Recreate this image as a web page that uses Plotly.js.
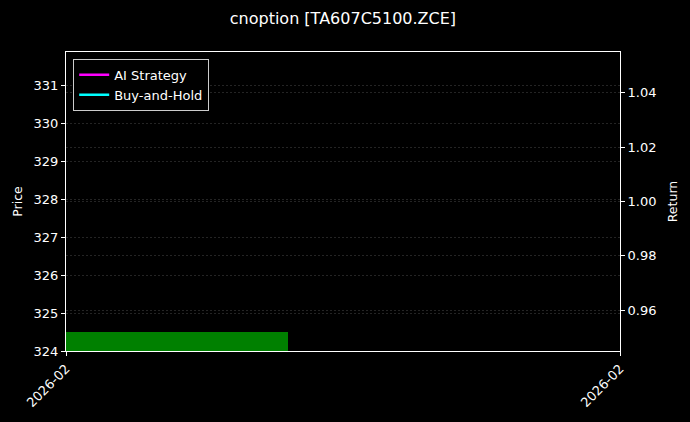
<!DOCTYPE html>
<html>
<head>
<meta charset="utf-8">
<script src="https://cdn.plot.ly/plotly-3.0.1.min.js"></script>
<style>body{margin:0;background:#000}#plot{width:690px;height:422px}</style>
</head>
<body>
<div id="plot"></div>
<script>
var dates = ['2026-02-10'];
var price = [324.5];
var aiReturn = [1.0];
var bhReturn = [1.0];
var xRange = ['2026-02-10', '2026-02-11'];
var xTickLabels = ['2026-02', '2026-02'];
var priceRange = [324, 331.87];
var returnRange = [0.945, 1.055];

var font = 'DejaVu Sans, sans-serif';
var grid = {gridcolor: '#3c3c3c', gridwidth: 0.6, griddash: '2px,2px'};

var data = [
    {x: dates, y: price, type: 'bar', width: 0.8 * 86400000, marker: {color: '#008000'},
     showlegend: false, hoverinfo: 'skip'},
    {x: dates, y: aiReturn, mode: 'lines', name: 'AI Strategy', yaxis: 'y2',
     line: {color: '#ff00ff', width: 2.5}},
    {x: dates, y: bhReturn, mode: 'lines', name: 'Buy-and-Hold', yaxis: 'y2',
     line: {color: '#00ffff', width: 2.5}}
];

var layout = {
    width: 690, height: 422,
    paper_bgcolor: '#000', plot_bgcolor: '#000',
    font: {family: font, size: 13, color: '#fff'},
    margin: {l: 66, r: 70, t: 52, b: 71},
    title: {text: 'cnoption [TA607C5100.ZCE]', font: {size: 16, color: '#fff'}, x: 0.497, y: 0.957, yanchor: 'middle'},
    xaxis: {type: 'date', range: xRange, tickvals: xRange, ticktext: xTickLabels, tickangle: -45,
            showgrid: false, showline: true, mirror: true, linecolor: '#fff', linewidth: 1,
            ticks: 'outside', ticklen: 4, tickcolor: '#fff', zeroline: false},
    yaxis: Object.assign({range: priceRange, dtick: 1, title: {text: 'Price', standoff: 8, font: {size: 12.5}},
            showline: true, linecolor: '#fff', linewidth: 1, ticks: 'outside', ticklen: 4,
            tickcolor: '#fff', zeroline: false}, grid),
    yaxis2: Object.assign({range: returnRange, dtick: 0.02, tickformat: '.2f', overlaying: 'y',
            side: 'right', title: {text: 'Return', standoff: 12, font: {size: 12.5}}, showline: true, linecolor: '#fff',
            linewidth: 1, ticks: 'outside', ticklen: 4, tickcolor: '#fff', zeroline: false}, grid),
    legend: {x: 0.013, y: 0.977, xanchor: 'left', yanchor: 'top', bgcolor: '#000',
             bordercolor: '#cccccc', borderwidth: 1, font: {size: 13, color: '#fff'},
             tracegroupgap: 0, itemwidth: 30},
    bargap: 0
};

Plotly.newPlot('plot', data, layout, {displayModeBar: false, staticPlot: true});
</script>
</body>
</html>
